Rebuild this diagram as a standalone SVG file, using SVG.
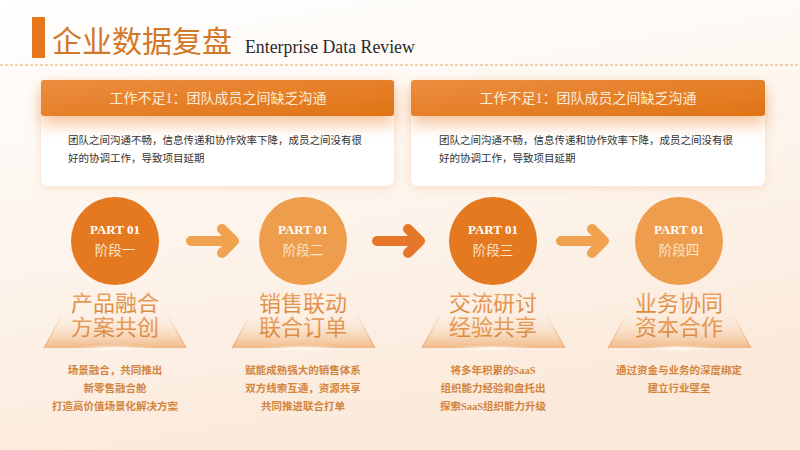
<svg xmlns="http://www.w3.org/2000/svg" width="800" height="450" viewBox="0 0 800 450">
<defs>
<linearGradient id="bg" x1="0" y1="0" x2="0.3" y2="1">
<stop offset="0" stop-color="#ffffff"/>
<stop offset="0.45" stop-color="#fdf6ef"/>
<stop offset="1" stop-color="#fbeadb"/>
</linearGradient>
<linearGradient id="hdr" x1="0" y1="0" x2="1" y2="1">
<stop offset="0" stop-color="#ec8d3e"/>
<stop offset="1" stop-color="#e07416"/>
</linearGradient>
<linearGradient id="ttl" x1="0" y1="0" x2="0" y2="1">
<stop offset="0" stop-color="#eba468"/>
<stop offset="1" stop-color="#d98436"/>
</linearGradient>
<linearGradient id="plat" x1="0" y1="0" x2="0" y2="1">
<stop offset="0" stop-color="#fbe6d2" stop-opacity="0"/>
<stop offset="1" stop-color="#f1b987"/>
</linearGradient>
<linearGradient id="edge" x1="0" y1="0" x2="0" y2="1">
<stop offset="0" stop-color="#e9a166" stop-opacity="0.1"/>
<stop offset="1" stop-color="#e9a166"/>
</linearGradient>
<radialGradient id="glow" cx="0.5" cy="0.5" r="0.5">
<stop offset="0" stop-color="#ffffff" stop-opacity="0.9"/>
<stop offset="1" stop-color="#ffffff" stop-opacity="0"/>
</radialGradient>
<filter id="cardsh" x="-10%" y="-20%" width="120%" height="150%">
<feDropShadow dx="0" dy="2" stdDeviation="5" flood-color="#f0b485" flood-opacity="0.35"/>
</filter>
<filter id="hdrsh" x="-10%" y="-40%" width="120%" height="240%">
<feDropShadow dx="0" dy="9" stdDeviation="8" flood-color="#f0a060" flood-opacity="0.6"/>
</filter>
</defs>
<style>
.cjk{font-family:"Liberation Serif","Noto Sans CJK SC",serif;}
.hdrtxt{font-size:14px;fill:#fdebd9;text-anchor:middle;}
.body{font-size:10.5px;fill:#333333;}
.part{font-family:"Liberation Serif","Noto Sans CJK SC",serif;font-size:13px;font-weight:bold;fill:#ffffff;text-anchor:middle;}
.stage{font-size:13.5px;fill:#fde4cc;text-anchor:middle;}
.big{font-size:22px;fill:url(#ttl);text-anchor:middle;font-weight:400;}
.desc{font-size:10.5px;fill:#d3853d;text-anchor:middle;font-weight:bold;}
.arrowA{fill:none;stroke:#f0a24f;stroke-width:10;stroke-linecap:round;stroke-linejoin:round;}
.arrowB{fill:none;stroke:#e6772a;stroke-width:10;stroke-linecap:round;stroke-linejoin:round;}
.dark{fill:#e4791f;}
.light{fill:#ee9d4c;}
</style>
<rect width="800" height="450" fill="url(#bg)"/>

<g id="title">
<rect x="32" y="17" width="13" height="41" fill="#e5781c"/>
<text x="52" y="52" class="cjk" font-size="30" fill="#d27829">企业数据复盘</text>
<text x="245" y="53" font-family="Liberation Serif, serif" font-size="17.8" fill="#2a2a2a">Enterprise Data Review</text>
<line x1="0" y1="65" x2="800" y2="65" stroke="#e8a466" stroke-width="1.2" stroke-dasharray="3,2"/>
</g>

<g id="card1">
<rect x="41" y="80" width="353" height="106" rx="7" fill="#ffffff" filter="url(#cardsh)"/>
<rect x="41" y="80" width="353" height="36" rx="3" fill="url(#hdr)" filter="url(#hdrsh)"/>
<text x="218" y="103" class="cjk hdrtxt">工作不足1：团队成员之间缺乏沟通</text>
<text x="68" y="144" class="cjk body">团队之间沟通不畅，信息传递和协作效率下降，成员之间没有很</text>
<text x="68" y="162" class="cjk body">好的协调工作，导致项目延期</text>
</g>

<g id="card2">
<rect x="411" y="80" width="354" height="106" rx="7" fill="#ffffff" filter="url(#cardsh)"/>
<rect x="411" y="80" width="354" height="36" rx="3" fill="url(#hdr)" filter="url(#hdrsh)"/>
<text x="588" y="103" class="cjk hdrtxt">工作不足1：团队成员之间缺乏沟通</text>
<text x="439" y="144" class="cjk body">团队之间沟通不畅，信息传递和协作效率下降，成员之间没有很</text>
<text x="439" y="162" class="cjk body">好的协调工作，导致项目延期</text>
</g>

<g id="stage1">
<polygon points="62,315 168,315 186,348 44,348" fill="url(#plat)"/>
<line x1="62" y1="315" x2="44" y2="348" stroke="url(#edge)" stroke-width="1"/>
<line x1="168" y1="315" x2="186" y2="348" stroke="url(#edge)" stroke-width="1"/>
<ellipse cx="115" cy="348" rx="40" ry="3" fill="url(#glow)"/>
<circle cx="115" cy="241" r="44" class="dark"/>
<text x="115" y="234" class="part">PART 01</text>
<text x="115" y="255" class="cjk stage">阶段一</text>
<text x="115" y="311" class="cjk big">产品融合</text>
<text x="115" y="335" class="cjk big">方案共创</text>
<text x="115" y="374" class="cjk desc">场景融合，共同推出</text>
<text x="115" y="392" class="cjk desc">新零售融合舱</text>
<text x="115" y="410" class="cjk desc">打造高价值场景化解决方案</text>
</g>

<g id="stage2">
<polygon points="250,315 357,315 375,348 232,348" fill="url(#plat)"/>
<line x1="250" y1="315" x2="232" y2="348" stroke="url(#edge)" stroke-width="1"/>
<line x1="357" y1="315" x2="375" y2="348" stroke="url(#edge)" stroke-width="1"/>
<ellipse cx="303" cy="348" rx="40" ry="3" fill="url(#glow)"/>
<circle cx="303" cy="241" r="44" class="light"/>
<text x="303" y="234" class="part">PART 01</text>
<text x="303" y="255" class="cjk stage">阶段二</text>
<text x="303" y="311" class="cjk big">销售联动</text>
<text x="303" y="335" class="cjk big">联合订单</text>
<text x="303" y="374" class="cjk desc">赋能成熟强大的销售体系</text>
<text x="303" y="392" class="cjk desc">双方线索互通，资源共享</text>
<text x="303" y="410" class="cjk desc">共同推进联合打单</text>
</g>

<g id="stage3">
<polygon points="440,315 547,315 565,348 422,348" fill="url(#plat)"/>
<line x1="440" y1="315" x2="422" y2="348" stroke="url(#edge)" stroke-width="1"/>
<line x1="547" y1="315" x2="565" y2="348" stroke="url(#edge)" stroke-width="1"/>
<ellipse cx="493" cy="348" rx="40" ry="3" fill="url(#glow)"/>
<circle cx="493" cy="241" r="44" class="dark"/>
<text x="493" y="234" class="part">PART 01</text>
<text x="493" y="255" class="cjk stage">阶段三</text>
<text x="493" y="311" class="cjk big">交流研讨</text>
<text x="493" y="335" class="cjk big">经验共享</text>
<text x="493" y="374" class="cjk desc">将多年积累的SaaS</text>
<text x="493" y="392" class="cjk desc">组织能力经验和盘托出</text>
<text x="493" y="410" class="cjk desc">探索SaaS组织能力升级</text>
</g>

<g id="stage4">
<polygon points="626,315 733,315 751,348 608,348" fill="url(#plat)"/>
<line x1="626" y1="315" x2="608" y2="348" stroke="url(#edge)" stroke-width="1"/>
<line x1="733" y1="315" x2="751" y2="348" stroke="url(#edge)" stroke-width="1"/>
<ellipse cx="679" cy="348" rx="40" ry="3" fill="url(#glow)"/>
<circle cx="679" cy="241" r="44" class="light"/>
<text x="679" y="234" class="part">PART 01</text>
<text x="679" y="255" class="cjk stage">阶段四</text>
<text x="679" y="311" class="cjk big">业务协同</text>
<text x="679" y="335" class="cjk big">资本合作</text>
<text x="679" y="374" class="cjk desc">通过资金与业务的深度绑定</text>
<text x="679" y="392" class="cjk desc">建立行业壁垒</text>
</g>

<g id="connectors">
<path class="arrowA" d="M191,241 H234 M222,229 L234,241 L222,253"/>
<path class="arrowB" d="M377,241 H420 M408,229 L420,241 L408,253"/>
<path class="arrowA" d="M561,241 H604 M592,229 L604,241 L592,253"/>
</g>
</svg>
